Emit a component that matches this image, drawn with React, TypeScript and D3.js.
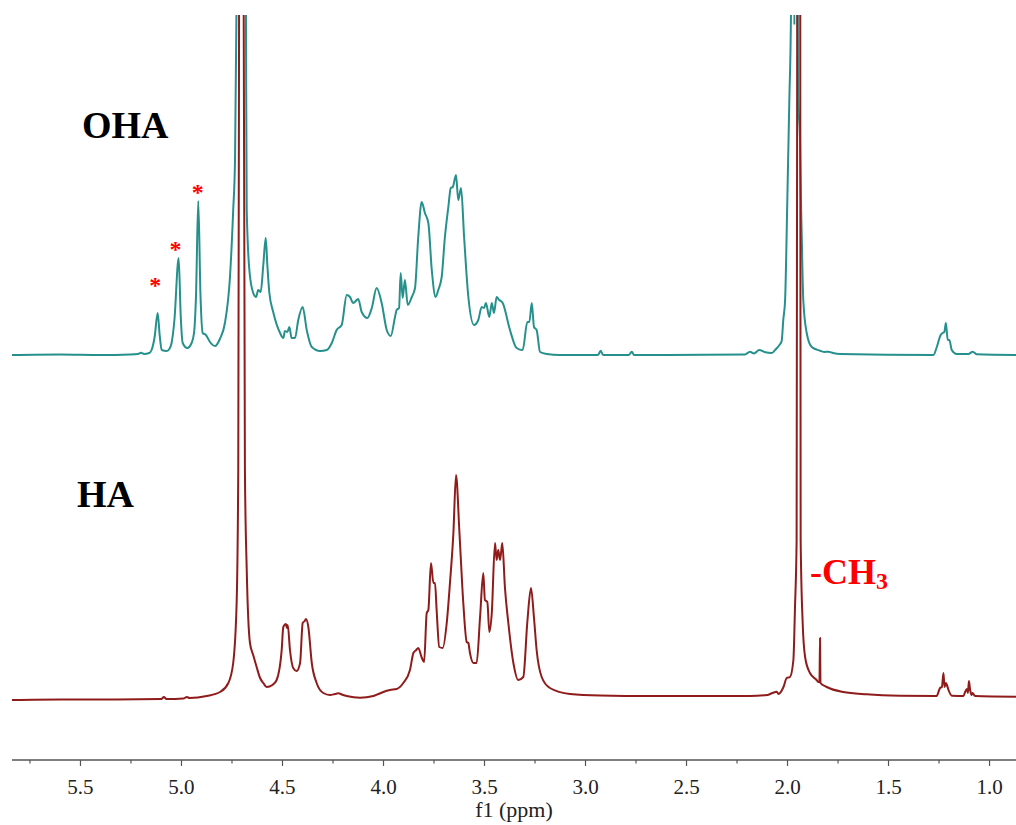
import React from "react";
import * as d3 from "d3";

// ---- Data (ppm, intensity a.u.) ----
const ohaSpectrum: [number, number][] = [
  [5.84,0],[5.60,0.5],[5.40,0],[5.255,0.5],[5.215,1],[5.200,2.3],[5.185,1],[5.160,2],[5.148,5],[5.133,18],[5.118,42],[5.108,20],[5.098,5],[5.073,4],[5.060,6],[5.049,12],[5.035,35],[5.014,97],[5.004,40],[4.994,12],[4.971,7],[4.950,12],[4.938,22],[4.928,60],[4.917,154],[4.906,60],[4.895,22],[4.879,20],[4.859,13],[4.834,9],[4.810,16],[4.785,32],[4.760,78],[4.744,145],[4.735,195],[4.728,340],[4.704,1500],[4.681,340],[4.677,145],[4.664,85],[4.645,62],[4.631,58],[4.620,65],[4.608,63],[4.595,90],[4.583,117],[4.575,90],[4.565,62],[4.546,43],[4.512,22],[4.496,17],[4.488,24],[4.476,23],[4.466,28],[4.455,17],[4.438,17],[4.422,35],[4.400,48],[4.380,25],[4.355,8],[4.314,4],[4.281,5],[4.256,12],[4.232,25],[4.207,30],[4.182,60],[4.166,58],[4.150,52],[4.125,56],[4.108,43],[4.080,37],[4.058,47],[4.034,67],[4.009,52],[3.984,25],[3.964,19],[3.943,38],[3.935,45],[3.923,47],[3.915,82],[3.905,57],[3.894,75],[3.880,50],[3.860,58],[3.844,67],[3.828,118],[3.811,153],[3.795,142],[3.778,132],[3.761,85],[3.742,58],[3.729,65],[3.712,78],[3.696,118],[3.679,148],[3.667,167],[3.657,168],[3.641,180],[3.630,155],[3.616,167],[3.601,118],[3.580,58],[3.552,30],[3.531,35],[3.514,48],[3.502,47],[3.493,52],[3.476,38],[3.464,52],[3.453,42],[3.440,58],[3.427,55],[3.410,52],[3.374,25],[3.341,7],[3.311,5],[3.288,33],[3.278,33],[3.266,52],[3.255,28],[3.242,25],[3.225,3],[3.192,1],[3.126,0],[2.938,0],[2.925,4.3],[2.913,0],[2.785,0],[2.771,3.3],[2.760,0],[2.210,0.5],[2.186,3.3],[2.166,1.5],[2.140,5],[2.110,2.7],[2.078,2],[2.057,6],[2.040,10],[2.029,14],[2.021,35],[2.012,55],[2.001,155],[1.991,255],[1.983,340],[1.976,1000],[1.966,330],[1.960,1000],[1.948,260],[1.938,213],[1.934,160],[1.930,122],[1.922,55],[1.905,22],[1.880,8],[1.839,4.3],[1.815,3],[1.798,3.3],[1.775,2],[1.740,1],[1.278,0],[1.261,8],[1.242,20],[1.232,22],[1.224,23],[1.216,32],[1.207,15],[1.199,15],[1.187,5],[1.163,1],[1.105,1],[1.083,3.3],[1.063,0.7],[0.869,0],
];

const haSpectrum: [number, number][] = [
  [5.84,0],[5.60,0.5],[5.40,0.5],[5.10,1],[5.087,3],[5.075,1],[4.99,1.5],[4.974,3],[4.96,2],[4.875,4],[4.809,8],[4.768,17],[4.744,37],[4.727,97],[4.719,230],[4.715,685],[4.704,3000],[4.692,685],[4.686,230],[4.677,130],[4.661,57],[4.645,45],[4.628,33],[4.611,22],[4.595,17],[4.578,13],[4.55,15],[4.529,20],[4.504,50],[4.496,73],[4.483,76],[4.478,72],[4.474,75],[4.463,50],[4.447,32],[4.430,29],[4.413,37],[4.400,77],[4.390,79],[4.384,81],[4.372,73],[4.355,37],[4.331,17],[4.298,7],[4.265,5],[4.240,6],[4.224,6.7],[4.200,5],[4.182,4],[4.116,2.3],[4.050,4],[4.025,6],[4.001,8],[3.968,10],[3.935,11],[3.902,17],[3.869,30],[3.852,47],[3.838,50],[3.828,52],[3.810,42],[3.799,38],[3.786,87],[3.778,90],[3.765,137],[3.753,117],[3.745,117],[3.737,90],[3.724,53],[3.707,52],[3.687,77],[3.671,117],[3.654,167],[3.641,225],[3.624,167],[3.605,97],[3.588,58],[3.580,57],[3.572,47],[3.555,37],[3.539,37],[3.522,83],[3.506,127],[3.498,100],[3.486,98],[3.476,68],[3.464,87],[3.448,157],[3.440,140],[3.432,150],[3.423,140],[3.412,157],[3.399,113],[3.382,77],[3.357,37],[3.333,20],[3.308,23],[3.288,78],[3.270,112],[3.255,82],[3.242,50],[3.217,23],[3.176,12],[3.077,6],[2.928,4.5],[2.681,4],[2.433,4],[2.186,4],[2.10,5],[2.078,6.7],[2.053,8.3],[2.045,6],[2.020,13],[2.004,22],[1.988,23],[1.971,40],[1.963,93],[1.955,160],[1.952,685],[1.945,3000],[1.937,685],[1.935,160],[1.925,77],[1.913,43],[1.889,27],[1.856,20],[1.848,18],[1.842,18],[1.839,62],[1.837,17],[1.806,13],[1.724,8],[1.608,5.7],[1.443,4.3],[1.262,4],[1.245,12],[1.236,13],[1.228,27],[1.223,13],[1.216,17],[1.211,15],[1.203,10],[1.186,4.3],[1.129,4],[1.121,8],[1.112,11],[1.107,7],[1.102,19],[1.096,10],[1.089,5],[1.084,7],[1.072,4],[0.869,3.3],
];

const majorTicks = [5.5, 5.0, 4.5, 4.0, 3.5, 3.0, 2.5, 2.0, 1.5, 1.0];
const minorTicks = [5.75, 5.25, 4.75, 4.25, 3.75, 3.25, 2.75, 2.25, 1.75, 1.25];
const starMarks: [number, number][] = [[5.13, 74], [5.03, 110], [4.92, 167]];
const xDomain: [number, number] = [5.839, 0.869];

const W = 1016;
const H = 825;
const TEAL = "#26908c";
const DARKRED = "#8f1b1b";

export default function App() {
  const x = d3.scaleLinear().domain(xDomain).range([12, 1016]);
  const yOHA = d3.scaleLinear().domain([0, 340]).range([355, 15]);
  const yHA = d3.scaleLinear().domain([0, 685]).range([700, 15]);

  const lineOHA = d3
    .line<[number, number]>()
    .x((d) => x(d[0]))
    .y((d) => yOHA(d[1]))
    .curve(d3.curveMonotoneX);
  const lineHA = d3
    .line<[number, number]>()
    .x((d) => x(d[0]))
    .y((d) => yHA(d[1]))
    .curve(d3.curveMonotoneX);

  const axisY = 760;
  const serif = "'Liberation Serif', 'Times New Roman', serif";

  return (
    <svg
      width={W}
      height={H}
      style={{ position: "absolute", left: 0, top: 0, background: "#fff" }}
      fontFamily={serif}
    >
      <defs>
        <clipPath id="plotClip">
          <rect x={12} y={15} width={W - 12} height={axisY - 15} />
        </clipPath>
      </defs>
      <rect x={0} y={0} width={W} height={H} fill="#fff" />
      <g clipPath="url(#plotClip)">
        <path d={lineOHA(ohaSpectrum) || ""} fill="none" stroke={TEAL} strokeWidth={2} strokeLinejoin="round" />
        <path d={lineHA(haSpectrum) || ""} fill="none" stroke={DARKRED} strokeWidth={2} strokeLinejoin="round" />
      </g>

      {starMarks.map(([p, v], i) => (
        <text key={i} x={x(p)} y={yOHA(v) + 12} textAnchor="middle" fontSize={24} fontWeight="bold" fill="#ff0000">
          *
        </text>
      ))}

      <text x={82} y={138} fontSize={38} fontWeight="bold" fill="#000">OHA</text>
      <text x={77} y={507} fontSize={38} fontWeight="bold" fill="#000">HA</text>
      <text x={810} y={584} fontSize={36} fontWeight="bold" fill="#ff0000">
        -CH<tspan fontSize={24} dy={5}>3</tspan>
      </text>

      {/* x axis */}
      <line x1={12} x2={W} y1={axisY} y2={axisY} stroke="#555" strokeWidth={1.5} />
      {majorTicks.map((t) => (
        <g key={"M" + t}>
          <line x1={x(t)} x2={x(t)} y1={axisY} y2={axisY + 6} stroke="#555" strokeWidth={1.2} />
          <text x={x(t)} y={794} textAnchor="middle" fontSize={21} fill="#222">
            {t.toFixed(1)}
          </text>
        </g>
      ))}
      {minorTicks.map((t) => (
        <line key={"m" + t} x1={x(t)} x2={x(t)} y1={axisY} y2={axisY + 3.5} stroke="#555" strokeWidth={1.2} />
      ))}
      <text x={514} y={817} textAnchor="middle" fontSize={22} fill="#222">f1 (ppm)</text>
    </svg>
  );
}
